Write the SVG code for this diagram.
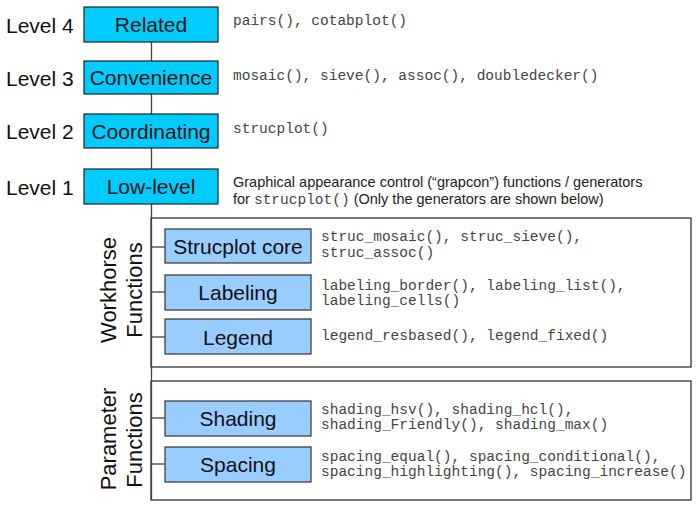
<svg xmlns="http://www.w3.org/2000/svg" width="697" height="508" viewBox="0 0 697 508">
  <style>
    .lvl { font-family: "Liberation Sans", Arial, sans-serif; font-size: 21px; fill: #111; }
    .box-lbl { font-family: "Liberation Sans", Arial, sans-serif; font-size: 21px; fill: #111; text-anchor: middle; }
    .rot { font-family: "Liberation Sans", Arial, sans-serif; font-size: 22px; fill: #111; text-anchor: middle; }
    .code { font-family: "Liberation Mono", "Courier New", monospace; font-size: 14.5px; fill: #444; }
    .note { font-family: "Liberation Sans", Arial, sans-serif; font-size: 14.5px; fill: #222; }
    .cyan { fill: #00ccff; stroke: #222; stroke-width: 1.2; }
    .blue { fill: #99ccff; stroke: #333; stroke-width: 1.2; }
    .panel { fill: #fff; stroke: #222; stroke-width: 1.2; }
    .wire { stroke: #444; stroke-width: 1.3; fill: none; }
  </style>

  <rect width="697" height="508" fill="#fff"/>

  <!-- group panels -->
  <rect id="workhorse-panel" class="panel" x="151" y="218" width="540" height="149"/>
  <rect id="parameter-panel" class="panel" x="151" y="381" width="540" height="119"/>

  <!-- connectors -->
  <g id="connectors" class="wire">
    <line x1="151.5" y1="42" x2="151.5" y2="500"/>
    <line x1="151" y1="247" x2="165" y2="247"/>
    <line x1="151" y1="292" x2="165" y2="292"/>
    <line x1="151" y1="337" x2="165" y2="337"/>
    <line x1="151" y1="418" x2="165" y2="418"/>
    <line x1="151" y1="464" x2="165" y2="464"/>
  </g>

  <!-- level labels -->
  <text class="lvl" x="6" y="33">Level 4</text>
  <text class="lvl" x="6" y="86">Level 3</text>
  <text class="lvl" x="6" y="139">Level 2</text>
  <text class="lvl" x="6" y="195">Level 1</text>

  <!-- level nodes -->
  <g id="related">
    <rect class="cyan" x="84" y="7" width="134" height="35"/>
    <text class="box-lbl" x="151" y="32">Related</text>
  </g>
  <g id="convenience">
    <rect class="cyan" x="84" y="61" width="134" height="33"/>
    <text class="box-lbl" x="151" y="85">Convenience</text>
  </g>
  <g id="coordinating">
    <rect class="cyan" x="84" y="114" width="134" height="34"/>
    <text class="box-lbl" x="151" y="139">Coordinating</text>
  </g>
  <g id="low-level">
    <rect class="cyan" x="84" y="169" width="134" height="35"/>
    <text class="box-lbl" x="151" y="194">Low-level</text>
  </g>

  <!-- level descriptions -->
  <text class="code" x="233" y="25">pairs(), cotabplot()</text>
  <text class="code" x="233" y="80">mosaic(), sieve(), assoc(), doubledecker()</text>
  <text class="code" x="233" y="133">strucplot()</text>
  <text class="note" x="233" y="187">Graphical appearance control (“grapcon”) functions / generators</text>
  <text class="note" x="233" y="204">for <tspan class="code">strucplot()</tspan> (Only the generators are shown below)</text>

  <!-- group titles -->
  <text class="rot" transform="translate(116,290) rotate(-90)">Workhorse</text>
  <text class="rot" transform="translate(142,290) rotate(-90)">Functions</text>
  <text class="rot" transform="translate(116,439) rotate(-90)">Parameter</text>
  <text class="rot" transform="translate(142,440) rotate(-90)">Functions</text>

  <!-- workhorse nodes -->
  <g id="strucplot-core">
    <rect class="blue" x="165" y="229" width="146" height="34"/>
    <text class="box-lbl" x="238" y="254">Strucplot core</text>
    <text class="code" x="321" y="241">struc_mosaic(), struc_sieve(),</text>
    <text class="code" x="321" y="257">struc_assoc()</text>
  </g>
  <g id="labeling">
    <rect class="blue" x="165" y="275" width="146" height="35"/>
    <text class="box-lbl" x="238" y="300">Labeling</text>
    <text class="code" x="321" y="290">labeling_border(), labeling_list(),</text>
    <text class="code" x="321" y="305">labeling_cells()</text>
  </g>
  <g id="legend">
    <rect class="blue" x="165" y="319" width="146" height="35"/>
    <text class="box-lbl" x="238" y="345">Legend</text>
    <text class="code" x="321" y="340">legend_resbased(), legend_fixed()</text>
  </g>

  <!-- parameter nodes -->
  <g id="shading">
    <rect class="blue" x="165" y="401" width="146" height="35"/>
    <text class="box-lbl" x="238" y="426">Shading</text>
    <text class="code" x="321" y="414">shading_hsv(), shading_hcl(),</text>
    <text class="code" x="321" y="429">shading_Friendly(), shading_max()</text>
  </g>
  <g id="spacing">
    <rect class="blue" x="165" y="447" width="146" height="35"/>
    <text class="box-lbl" x="238" y="472">Spacing</text>
    <text class="code" x="321" y="461">spacing_equal(), spacing_conditional(),</text>
    <text class="code" x="321" y="476">spacing_highlighting(), spacing_increase()</text>
  </g>
</svg>
